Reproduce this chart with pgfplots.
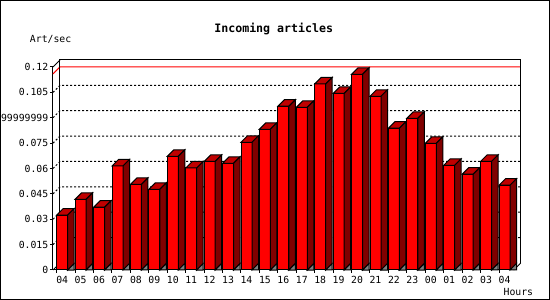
\documentclass[border=0pt]{standalone}
\usepackage{pgfplots}
\pgfplotsset{compat=1.18}
\usepackage{pgfplotstable}
\usepackage{fontspec}
\setmainfont{DejaVu Sans Mono}
\definecolor{frontred}{RGB}{255,0,0}
\definecolor{topred}{RGB}{192,0,0}
\definecolor{sidered}{RGB}{128,0,0}
\definecolor{floorgray}{RGB}{128,128,128}

\pgfplotstableread{
i v
0 0.0325
1 0.0418
2 0.0371
3 0.0615
4 0.0506
5 0.0477
6 0.0672
7 0.0603
8 0.0642
9 0.0631
10 0.0755
11 0.0832
12 0.0968
13 0.0962
14 0.1100
15 0.1044
16 0.1157
17 0.1027
18 0.0838
19 0.0897
20 0.0749
21 0.0619
22 0.0566
23 0.0642
24 0.0501
}\datatable

% 3D parts of a bar: origin = top centre of the front face
\pgfdeclareplotmark{bar3d}{%
  \pgfmathsetmacro{\bh}{\barv*1691.6667}%
  \pgfsetlinewidth{1pt}%
  \pgfsetstrokecolor{black}%
  % top face
  \pgfsetfillcolor{topred}%
  \pgfpathmoveto{\pgfpoint{-5.5pt}{0pt}}%
  \pgfpathlineto{\pgfpoint{5.5pt}{0pt}}%
  \pgfpathlineto{\pgfpoint{12pt}{6.5pt}}%
  \pgfpathlineto{\pgfpoint{1pt}{6.5pt}}%
  \pgfpathclose
  \pgfusepath{fill,stroke}%
  % side face
  \pgfsetfillcolor{sidered}%
  \pgfpathmoveto{\pgfpoint{5.5pt}{0pt}}%
  \pgfpathlineto{\pgfpoint{12pt}{6.5pt}}%
  \pgfpathlineto{\pgfpoint{12pt}{6.5pt-\bh pt}}%
  \pgfpathlineto{\pgfpoint{5.5pt}{-\bh pt}}%
  \pgfpathclose
  \pgfusepath{fill,stroke}%
  % floor shadow triangle
  \pgfsetfillcolor{floorgray}%
  \pgfpathmoveto{\pgfpoint{5.5pt}{-\bh pt}}%
  \pgfpathlineto{\pgfpoint{12pt}{6.5pt-\bh pt}}%
  \pgfpathlineto{\pgfpoint{12pt}{-\bh pt}}%
  \pgfpathclose
  \pgfusepath{fill,stroke}%
}

\begin{document}
\begin{tikzpicture}[x=1pt,y=1pt]
\path[use as bounding box] (0,0) rectangle (550,300);
\clip (0,0) rectangle (550,300);
\fill[white] (0,0) rectangle (550,300);
\begin{axis}[
  at={(53pt,30pt)}, anchor=south west,
  scale only axis, width=460.75pt, height=203pt,
  xmin=-0.5, xmax=24.5, ymin=0, ymax=0.12,
  axis x line*=bottom, axis y line*=left,
  axis line style={black, line width=1pt},
  clip=false,
  font=\fontsize{9.8}{11}\selectfont,
  tick style={black, line width=1pt},
  major tick length=3pt, tick align=outside,
  xtick={-0.3,0.7,1.7,2.7,3.7,4.7,5.7,6.7,7.7,8.7,9.7,10.7,11.7,12.7,13.7,14.7,15.7,16.7,17.7,18.7,19.7,20.7,21.7,22.7,23.7},
  xticklabels={04,05,06,07,08,09,10,11,12,13,14,15,16,17,18,19,20,21,22,23,00,01,02,03,04},
  xticklabel style={xshift=5.5pt, inner sep=3pt},
  ytick={0,0.015,0.03,0.045,0.06,0.075,0.09,0.105,0.12},
  yticklabels={0,0.015,0.03,0.045,0.06,0.075,0.0899999999999999,0.105,0.12},
  yticklabel style={inner sep=1.5pt},
]
% back wall grid lines (dotted)
\pgfplotsinvokeforeach{0.015,0.03,0.045,0.06,0.075,0.09,0.105}{
  \draw[black, line width=1pt, dash pattern=on 2pt off 2pt]
    (axis cs:-0.5,#1) -- ([shift={(7pt,7pt)}]axis cs:-0.5,#1)
    -- ([shift={(7pt,7pt)}]axis cs:24.5,#1);
}
% maximum line
\draw[red, line width=1pt] (axis cs:-0.5,0.1159) -- ([shift={(7pt,7pt)}]axis cs:-0.5,0.1159)
  -- ([shift={(7pt,7pt)}]axis cs:24.5,0.1159);
% back wall frame
\draw[black, line width=1pt]
  ([shift={(7pt,7pt)}]axis cs:-0.5,0) -- ([shift={(7pt,7pt)}]axis cs:-0.5,0.12)
  -- ([shift={(7pt,7pt)}]axis cs:24.5,0.12) -- ([shift={(7pt,7pt)}]axis cs:24.5,0);
\draw[black, line width=1pt] (axis cs:-0.5,0.12) -- ([shift={(7pt,7pt)}]axis cs:-0.5,0.12);
\draw[black, line width=1pt] (axis cs:-0.5,0) -- ([shift={(7pt,7pt)}]axis cs:-0.5,0);
\draw[black, line width=1pt] (axis cs:24.5,0) -- ([shift={(7pt,7pt)}]axis cs:24.5,0);
% bars: front faces
\addplot[ybar, bar width=11pt, bar shift=0pt, fill=frontred, draw=black, line width=1pt]
  table[x=i, y=v] {\datatable};
% bars: top, side and floor shadow
\addplot[only marks, mark=bar3d, visualization depends on={rawy \as \barv}]
  table[x=i, y=v] {\datatable};
\end{axis}
\node[anchor=base, inner sep=0pt, font=\fontsize{11.6}{13}\selectfont\bfseries] at (273.7,267.4) {Incoming articles};
\node[anchor=base west, inner sep=0pt, font=\fontsize{9.8}{11}\selectfont] at (29.8,257) {Art/sec};
\node[anchor=base east, inner sep=0pt, font=\fontsize{9.8}{11}\selectfont] at (533.3,4.3) {Hours};
\draw[black, line width=1pt] (0.5,0.5) rectangle (549.5,299.5);
\end{tikzpicture}
\end{document}
